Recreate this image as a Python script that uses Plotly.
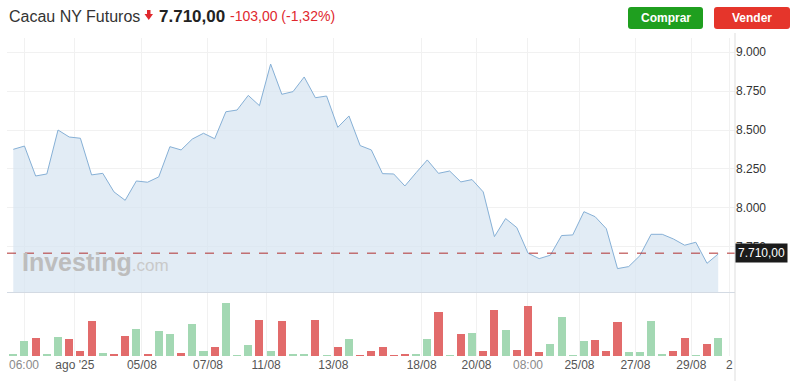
import plotly.graph_objects as go

# ---------------- data ----------------
prices = [8376, 8397, 8205, 8218, 8500, 8455, 8447, 8212, 8222, 8103,
          8049, 8173, 8165, 8199, 8393, 8372, 8442, 8479, 8444, 8617,
          8628, 8722, 8656, 8923, 8729, 8746, 8840, 8707, 8718, 8517,
          8590, 8400, 8372, 8220, 8218, 8141, 8226, 8308, 8222, 8237,
          8167, 8182, 8103, 7816, 7932, 7874, 7710, 7675, 7697, 7823,
          7827, 7976, 7944, 7867, 7611, 7624, 7694, 7831, 7831, 7801,
          7761, 7780, 7645, 7705]
volumes = [510, 4410, 5400, 690, 5700, 5010, 1500, 10500, 990, 390,
           5910, 8190, 690, 7410, 6510, 990, 9600, 1500, 2700, 15900,
           90, 3210, 10800, 1500, 10500, 690, 690, 10800, 90, 2700,
           5190, 90, 1500, 2700, 90, 690, 690, 5010, 13200, 90,
           6690, 6990, 1500, 13710, 7890, 1890, 14910, 1290, 3600, 11700,
           90, 4500, 4800, 1500, 10290, 1200, 1200, 10590, 390, 1500,
           5400, 90, 3690, 5310]
tick_labels = ["06:00", "ago '25", "05/08", "07/08", "11/08", "13/08", "18/08",
               "20/08", "08:00", "25/08", "27/08", "29/08", "2"]
tick_pos = [0.96, 5.5, 11.5, 17.4, 22.6, 28.6, 36.5, 41.4, 46.0, 50.6, 55.6, 60.6, 64.0]
y_ticks = [7750, 8000, 8250, 8500, 8750, 9000]
last_price = 7710
title = "Cacau NY Futuros"
price_text = "7.710,00"
change_text = "-103,00 (-1,32%)"

# ---------------- helpers ----------------
W, H = 800, 381
def px(x):
    return x / W
def py(y):
    return 1 - y / H

def fmt(v, dec=0):
    s = f"{v:,.{dec}f}"
    return s.replace(",", "X").replace(".", ",").replace("X", ".")

idx = list(range(len(prices)))
GREEN = "#a3d8b3"
RED = "#e26b6b"
bar_colors = [GREEN] + [GREEN if prices[i] >= prices[i - 1] else RED for i in range(1, len(prices))]

FONT = "Liberation Sans, Arial, sans-serif"

fig = go.Figure()
fig.add_trace(go.Scatter(
    x=idx, y=prices, mode="lines", fill="tozeroy",
    line=dict(color="#86b0d6", width=1), fillcolor="rgba(214,228,241,0.7)",
    xaxis="x", yaxis="y", hoverinfo="skip", showlegend=False))
fig.add_trace(go.Bar(
    x=idx, y=volumes, marker=dict(color=bar_colors, line=dict(width=0)),
    width=0.72, xaxis="x2", yaxis="y2", hoverinfo="skip", showlegend=False))

xrange = [-0.56, 64.5]
grid = "#f1f1f1"
tick_text = []
for t in tick_labels:
    if ":" in t:
        tick_text.append(f"<span style='color:#8a8a8a'>{t}</span>")
    else:
        tick_text.append(t)

fig.update_layout(
    width=W, height=H, margin=dict(l=0, r=0, t=0, b=0),
    paper_bgcolor="white", plot_bgcolor="white",
    font=dict(family=FONT, color="#333", size=12),
    bargap=0,
    xaxis=dict(domain=[px(7), px(735)], range=xrange, anchor="y",
               tickvals=tick_pos, showticklabels=False, showgrid=True,
               gridcolor=grid, zeroline=False, showline=True,
               linecolor="#d3dae3", linewidth=1, ticks=""),
    xaxis2=dict(domain=[px(7), px(735)], range=xrange, anchor="y2", matches="x",
                tickvals=tick_pos, ticktext=tick_text, showgrid=True,
                gridcolor=grid, zeroline=False, showline=False, ticks="",
                tickfont=dict(size=12, color="#555")),
    yaxis=dict(domain=[py(292), py(38)], range=[7461, 9090], side="right",
               tickvals=y_ticks, ticktext=[fmt(v) for v in y_ticks],
               showgrid=True, gridcolor=grid, zeroline=False, ticks="",
               tickfont=dict(size=12, color="#333"), anchor="x"),
    yaxis2=dict(domain=[py(356), py(293)], range=[0, 18900], showticklabels=False,
                showgrid=False, zeroline=False, anchor="x2"),
)

shapes = []
# last price dashed line
shapes.append(dict(type="line", xref="paper", yref="y", x0=px(7), x1=px(735),
                   y0=last_price, y1=last_price,
                   line=dict(color="#b03030", width=1, dash="dash"), layer="above"))
# right axis line
shapes.append(dict(type="line", xref="paper", yref="paper", x0=px(735), x1=px(735),
                   y0=py(381), y1=py(33), line=dict(color="#dddddd", width=1)))
# down arrow icon
shapes.append(dict(type="path", xref="paper", yref="paper",
                   path=(f"M {px(147)},{py(10)} L {px(150.5)},{py(10)} L {px(150.5)},{py(14)} "
                         f"L {px(153)},{py(14)} L {px(148.75)},{py(20)} L {px(144.5)},{py(14)} "
                         f"L {px(147)},{py(14)} Z"),
                   fillcolor="#e0282e", line=dict(width=0)))

def rrect(x0, y0, x1, y1, r, color):
    p = (f"M {px(x0 + r)},{py(y0)} L {px(x1 - r)},{py(y0)} Q {px(x1)},{py(y0)} {px(x1)},{py(y0 + r)} "
         f"L {px(x1)},{py(y1 - r)} Q {px(x1)},{py(y1)} {px(x1 - r)},{py(y1)} "
         f"L {px(x0 + r)},{py(y1)} Q {px(x0)},{py(y1)} {px(x0)},{py(y1 - r)} "
         f"L {px(x0)},{py(y0 + r)} Q {px(x0)},{py(y0)} {px(x0 + r)},{py(y0)} Z")
    return dict(type="path", xref="paper", yref="paper", path=p,
                fillcolor=color, line=dict(width=0))

shapes.append(rrect(628, 7, 703, 29, 3, "#1f9f1f"))
shapes.append(rrect(714, 7, 790, 29, 3, "#e5352b"))
fig.update_layout(shapes=shapes)

ann = []
ann.append(dict(xref="paper", yref="paper", x=px(7), y=py(16), xanchor="left", yanchor="middle",
                text=title, showarrow=False, font=dict(size=16, color="#333")))
ann.append(dict(xref="paper", yref="paper", x=px(157), y=py(16), xanchor="left", yanchor="middle",
                text=f"<b>{price_text}</b>", showarrow=False, font=dict(size=17, color="#222")))
ann.append(dict(xref="paper", yref="paper", x=px(228), y=py(16), xanchor="left", yanchor="middle",
                text=change_text, showarrow=False, font=dict(size=14, color="#e0282e")))
ann.append(dict(xref="paper", yref="paper", x=px(665.5), y=py(18), xanchor="center", yanchor="middle",
                text="<b>Comprar</b>", showarrow=False, font=dict(size=12, color="white")))
ann.append(dict(xref="paper", yref="paper", x=px(752), y=py(18), xanchor="center", yanchor="middle",
                text="<b>Vender</b>", showarrow=False, font=dict(size=12, color="white")))
# watermark
ann.append(dict(xref="paper", yref="paper", x=px(20), y=py(262), xanchor="left", yanchor="middle",
                text="<b>Investing</b><span style='font-size:17px;color:#c9c9c9'>.com</span>",
                showarrow=False, font=dict(size=25, color="#bdbdbd")))
# last price label
ann.append(dict(xref="paper", yref="y", x=px(735), y=last_price, xanchor="left", yanchor="middle",
                text=fmt(last_price, 2), showarrow=False, bgcolor="#1b1b1b", borderpad=2,
                font=dict(size=12, color="white")))
fig.update_layout(annotations=ann)

fig.write_html("out.html")
